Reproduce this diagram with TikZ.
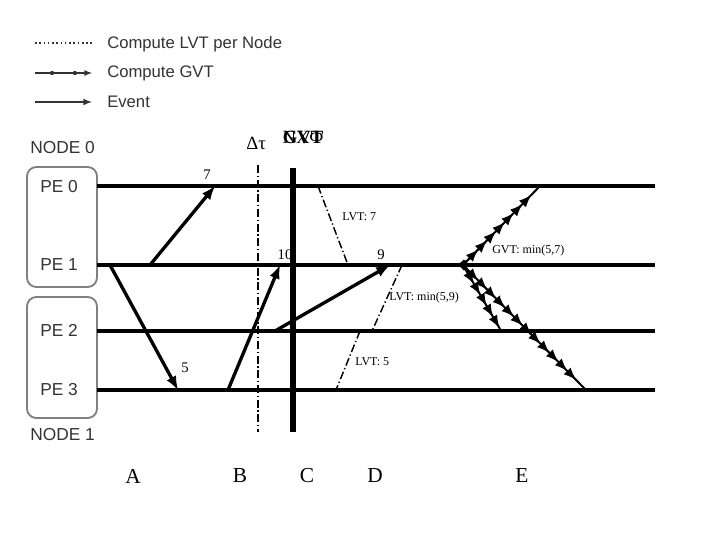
\documentclass[tikz,border=0pt]{standalone}
\usepackage{fontspec}
\setmainfont{Liberation Serif}
\setsansfont{Liberation Sans}
\usetikzlibrary{arrows,decorations.markings}
\definecolor{legendgray}{HTML}{333333}
\definecolor{boxgray}{HTML}{808080}
\tikzset{
  peline/.style={line width=2.3pt},
  eventarrow/.style={line width=2.5pt,-latex},
  lvtline/.style={line width=1.1pt,dash pattern=on 6pt off 2pt on 1pt off 2pt},
  gvtline/.style={line width=1.5pt,postaction={decorate},
    decoration={markings,mark=between positions 7pt and 1 step 9.5pt with {\arrow[scale=1.3]{latex}}}},
  pebox/.style={draw=boxgray,line width=1.4pt,rounded corners=7pt},
  legendtext/.style={anchor=west,inner sep=0pt,text=legendgray,font=\sffamily\fontsize{12.5}{15}\selectfont},
  petext/.style={anchor=west,inner sep=0pt,text=legendgray,font=\sffamily\fontsize{13}{15}\selectfont},
  smalllabel/.style={inner sep=0pt,font=\fontsize{9}{11}\selectfont},
  phaselabel/.style={inner sep=0pt,font=\fontsize{16}{18}\selectfont},
}
\begin{document}
\begin{tikzpicture}[x=0.75pt,y=-0.75pt]
  \useasboundingbox (0,0) rectangle (720,540);
  % Legend
  \coordinate (lvta) at (35,43);  \coordinate (lvtb) at (92,43);
  \coordinate (gvta) at (35,73);  \coordinate (gvtb) at (92,73);
  \coordinate (evta) at (35,102); \coordinate (evtb) at (92,102);
  \draw[legendgray,line width=1pt,dash pattern=on 1.2pt off 2pt] (lvta) -- (lvtb);
  \draw[legendgray,line width=1pt,-latex,postaction={decorate},
    decoration={markings,mark=between positions 0.3 and 0.7 step 0.4 with {\fill circle (1.6pt);}}] (gvta) -- (gvtb);
  \draw[legendgray,line width=1.2pt,-latex] (evta) -- (evtb);
  \node[legendtext] (lvtkey) at (107,44) {Compute LVT per Node};
  \node[legendtext] (gvtkey) at (107,73) {Compute GVT};
  \node[legendtext] (evtkey) at (107,102) {Event};

  % Nodes and PEs
  \node[petext] (node0) at (30,148) {NODE 0};
  \node[petext] (node1) at (30,435) {NODE 1};
  \draw[pebox] (27,167) rectangle (97,287);
  \draw[pebox] (27,297) rectangle (97,418);
  \node[petext] (pe0) at (40,187) {PE 0};
  \node[petext] (pe1) at (40,265) {PE 1};
  \node[petext] (pe2) at (40,330) {PE 2};
  \node[petext] (pe3) at (40,390) {PE 3};

  % Time lines
  \coordinate (p0s) at (97,186);  \coordinate (p0e) at (655,186);
  \coordinate (p1s) at (97,265);  \coordinate (p1e) at (655,265);
  \coordinate (p2s) at (97,331);  \coordinate (p2e) at (655,331);
  \coordinate (p3s) at (97,390);  \coordinate (p3e) at (655,390);
  \foreach \p in {0,1,2,3}
    \draw[peline] (p\p s) -- (p\p e);

  % Cut lines
  \coordinate (dta) at (258,165); \coordinate (dtb) at (258,432);
  \coordinate (cuta) at (293,168); \coordinate (cutb) at (293,432);
  \draw[lvtline] (dta) -- (dtb);
  \draw[line width=4.5pt] (cuta) -- (cutb);
  \node[inner sep=0pt,font=\fontsize{14}{16}\selectfont] (dtau) at (256,143) {Δτ};
  \node[inner sep=0pt,font=\bfseries\fontsize{14}{16}\selectfont] (gvttitle) at (303,137) {GVT};
  \node[inner sep=0pt,font=\fontsize{14}{16}\selectfont] (gvtglyph) at (303,137) {NXΦ};

  % Events
  \coordinate (e1a) at (150,265); \coordinate (e1b) at (215,186);
  \coordinate (e2a) at (110,265); \coordinate (e2b) at (178,390);
  \coordinate (e3a) at (228,390); \coordinate (e3b) at (280,265);
  \coordinate (e4a) at (275,331); \coordinate (e4b) at (390,265);
  \draw[eventarrow] (e1a) -- (e1b);
  \draw[eventarrow] (e2a) -- (e2b);
  \draw[eventarrow] (e3a) -- (e3b);
  \draw[eventarrow] (e4a) -- (e4b);
  \node[smalllabel,font=\fontsize{11}{13}\selectfont] (ts7) at (207,175) {7};
  \node[smalllabel,font=\fontsize{11}{13}\selectfont] (ts5) at (185,368) {5};
  \node[smalllabel,font=\fontsize{11}{13}\selectfont] (ts10) at (285,255) {10};
  \node[smalllabel,font=\fontsize{11}{13}\selectfont] (ts9) at (381,255) {9};

  % LVT computation
  \coordinate (l1a) at (318,186); \coordinate (l1b) at (348,265);
  \coordinate (l2a) at (402,265); \coordinate (l2b) at (372,331);
  \coordinate (l3a) at (360,331); \coordinate (l3b) at (336,390);
  \draw[lvtline] (l1a) -- (l1b);
  \draw[lvtline] (l2a) -- (l2b);
  \draw[lvtline] (l3a) -- (l3b);
  \node[smalllabel,anchor=west] (lvt7) at (342,217) {LVT: 7};
  \node[smalllabel,anchor=west] (lvt59) at (389,298) {LVT: min(5,9)};
  \node[smalllabel,anchor=west] (lvt5) at (355,362) {LVT: 5};

  % GVT computation
  \coordinate (g0) at (463,265);
  \coordinate (g1) at (539,187);
  \coordinate (g2) at (500,329);
  \coordinate (g3) at (585,389);
  \draw[gvtline] (g0) -- (g1);
  \draw[gvtline] (g0) -- (g2);
  \draw[gvtline] (g0) -- (g3);
  \node[smalllabel,anchor=west] (gvt57) at (492,251) {GVT: min(5,7)};

  % Phases
  \node[phaselabel] (phA) at (133,476) {A};
  \node[phaselabel] (phB) at (240,476) {B};
  \node[phaselabel] (phC) at (307,476) {C};
  \node[phaselabel] (phD) at (375,476) {D};
  \node[phaselabel] (phE) at (522,476) {E};
\end{tikzpicture}
\end{document}
